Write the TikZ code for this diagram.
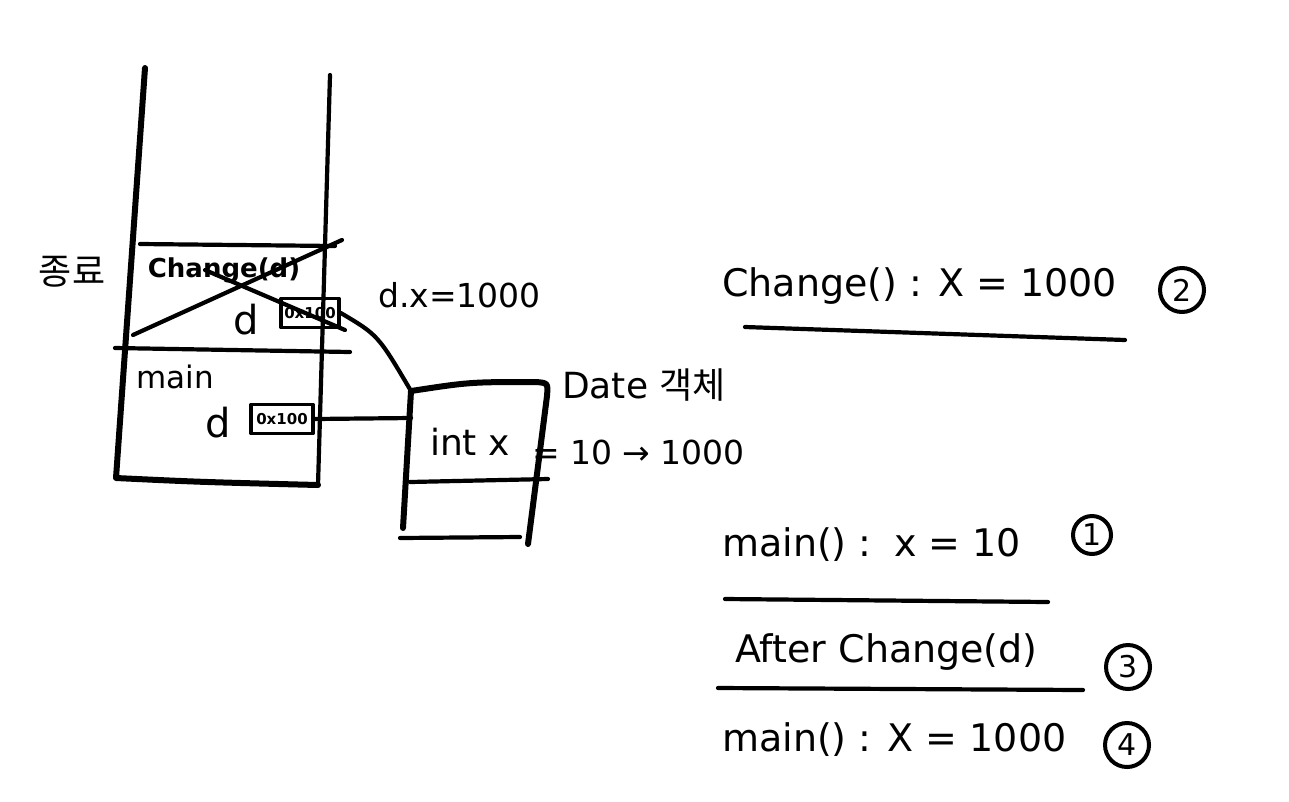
\documentclass[tikz,border=0pt]{standalone}
\usepackage{fontspec}
\setmainfont{DejaVu Sans}
\newfontfamily\kr{Noto Sans CJK KR}
\begin{document}
\begin{tikzpicture}[x=1pt,y=-1pt,line cap=round,line join=round,
  hand/.style={line width=6pt},
  thinhand/.style={line width=4.2pt},
  lbl/.style={inner sep=0pt,font=\fontsize{31}{31}\selectfont},
  big/.style={inner sep=0pt,font=\fontsize{38}{38}\selectfont},
  circ/.style={circle,draw,line width=4pt,inner sep=0pt,minimum size=44pt,font=\fontsize{30}{30}\selectfont},
  ptr/.style={draw,line width=3.6pt,inner sep=1pt,minimum height=29pt,font=\fontsize{15}{15}\selectfont\bfseries}]
\useasboundingbox[fill=white] (0,0) rectangle (1289,801);
% stack
\draw[hand] (145,68) -- (116,478) .. controls (200,482) .. (318,485);
\draw[thinhand] (330,75) -- (318,485);
\draw[thinhand] (140,244) -- (335,246);
\draw[thinhand] (115,348) -- (350,352);
% change frame contents
\node[lbl,font=\fontsize{26}{26}\selectfont\bfseries] (chg) at (224,270) {Change(d)};
\node[lbl,font=\fontsize{40}{40}\selectfont] (d1) at (246,320) {d};
\node[ptr,minimum width=58pt] (p1) at (310,313) {0x100};
\draw[thinhand] (133,335) -- (342,240);
\draw[thinhand] (205,270) -- (345,330);
% main frame contents
\node[lbl] (mainlbl) at (175,377) {main};
\node[lbl,font=\fontsize{40}{40}\selectfont] (d2) at (218,423) {d};
\node[ptr,minimum width=62pt] (p2) at (282,419) {0x100};
% Date object
\coordinate (dtl) at (411,391);
\coordinate (dl) at (411,418);
\draw[hand] (dtl) -- (403,528);
\draw[hand] (dtl) .. controls (470,382) .. (536,382) .. controls (548,383) .. (547,396) -- (528,544);
\draw[thinhand] (410,482) -- (548,479);
\draw[thinhand] (400,538) -- (520,537);
\node[lbl,font=\fontsize{36}{36}\selectfont] (intx) at (470,442) {int x};
\node[lbl,anchor=west,font=\fontsize{33}{33}\selectfont] (val) at (532,452) {= 10 → 1000};
\node[lbl,anchor=west,font=\fontsize{36}{36}\selectfont] (datelbl) at (562,385) {Date {\kr 객체}};
% connectors
\draw[thinhand] (p1.east) .. controls (378,335) .. (dtl);
\draw[thinhand] (p2.east) -- (dl);
% labels
\node[lbl,font=\kr\fontsize{36}{36}\selectfont] (end) at (72,272) {종료};
\node[lbl,anchor=west,font=\fontsize{33}{33}\selectfont] (dx) at (378,295) {d.x=1000};
% right notes
\node[big,anchor=west] (n2) at (722,286) {Change() : X = 1000};
\node[circ] (c2) at (1182,290) {2};
\draw[thinhand] (745,327) -- (1125,340);
\node[big,anchor=west] (n1) at (722,545) {main() :\, x = 10};
\node[circ,minimum size=38pt] (c1) at (1092,535) {1};
\draw[thinhand] (725,599) -- (1048,602);
\node[big,anchor=west] (n3) at (735,652) {After Change(d)};
\node[circ] (c3) at (1128,667) {3};
\draw[thinhand] (718,688) -- (1083,690);
\node[big,anchor=west] (n4) at (722,740) {main() : X = 1000};
\node[circ] (c4) at (1127,745) {4};
\end{tikzpicture}
\end{document}
